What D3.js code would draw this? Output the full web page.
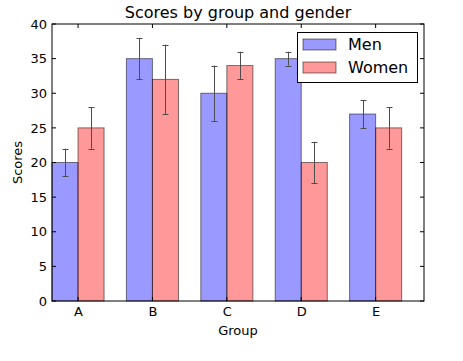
<!DOCTYPE html>
<html><head><meta charset="utf-8">
<script src="https://cdn.jsdelivr.net/npm/d3@7"></script>
<style>body{margin:0;background:#fff}svg{display:block}text{font-family:"DejaVu Sans",sans-serif;fill:#000}</style>
</head><body><svg id="c" width="463" height="361"></svg>
<script>
const groups = ["A","B","C","D","E"];
const menMeans = [20,35,30,35,27];
const menStd = [2,3,4,1,2];
const womenMeans = [25,32,34,20,25];
const womenStd = [3,5,2,3,3];
const yTicks = [0,5,10,15,20,25,30,35,40];
const barWidth = 0.35;

const svg = d3.select("#c");
const L=52,R=424,T=24,B=301;
const x = d3.scaleLinear().domain([0,5]).range([L,R]);
const y = d3.scaleLinear().domain([0,40]).range([B,T]);

const series = [
  {name:"Men", means:menMeans, std:menStd, off:0, color:"#0000ff"},
  {name:"Women", means:womenMeans, std:womenStd, off:barWidth, color:"#ff0000"}
];
series.forEach(s=>{
  const g = svg.append("g");
  g.selectAll("rect").data(s.means).join("rect")
    .attr("x",(d,i)=>x(i+s.off)).attr("width",x(barWidth)-x(0))
    .attr("y",d=>y(d)).attr("height",d=>y(0)-y(d))
    .attr("fill",s.color).attr("fill-opacity",0.4)
    .attr("stroke","#000").attr("stroke-opacity",0.5).attr("stroke-width",1);
});
series.forEach(s=>{
  const g = svg.append("g").attr("stroke","#4d4d4d").attr("stroke-width",1);
  s.means.forEach((m,i)=>{
    const cx = Math.round(x(i+s.off+barWidth/2))+0.5;
    g.append("line").attr("x1",cx).attr("x2",cx).attr("y1",y(m-s.std[i])).attr("y2",y(m+s.std[i]));
    [m-s.std[i],m+s.std[i]].forEach(v=>{
      g.append("line").attr("x1",cx-3).attr("x2",cx+3).attr("y1",Math.round(y(v))+0.5).attr("y2",Math.round(y(v))+0.5);
    });
  });
});
// frame
svg.append("rect").attr("x",L).attr("y",T).attr("width",R-L).attr("height",B-T)
  .attr("fill","none").attr("stroke","#000").attr("stroke-width",1);
// ticks inside
const tg = svg.append("g").attr("stroke","#000");
yTicks.forEach(v=>{
  tg.append("line").attr("x1",L).attr("x2",L+4).attr("y1",y(v)).attr("y2",y(v));
  tg.append("line").attr("x1",R).attr("x2",R-4).attr("y1",y(v)).attr("y2",y(v));
});
groups.forEach((g,i)=>{
  tg.append("line").attr("x1",x(i+barWidth)).attr("x2",x(i+barWidth)).attr("y1",B).attr("y2",B-4);
  tg.append("line").attr("x1",x(i+barWidth)).attr("x2",x(i+barWidth)).attr("y1",T).attr("y2",T+4);
});
// tick labels
const yAxis = d3.axisLeft(y).tickValues(yTicks).tickSize(0).tickPadding(5);
const ya = svg.append("g").attr("transform",`translate(${L},0)`).call(yAxis);
ya.select(".domain").remove();
ya.selectAll("text").style("font-size","13px").style("font-family","DejaVu Sans");
const xAxis = d3.axisBottom(x).tickValues(groups.map((g,i)=>i+barWidth)).tickFormat((d,i)=>groups[i]).tickSize(0).tickPadding(6);
const xa = svg.append("g").attr("transform",`translate(0,${B})`).call(xAxis);
xa.select(".domain").remove();
xa.selectAll("text").style("font-size","13px").style("font-family","DejaVu Sans");

svg.append("text").attr("x",(L+R)/2).attr("y",18).attr("text-anchor","middle").style("font-size","16px").text("Scores by group and gender");
svg.append("text").attr("x",(L+R)/2).attr("y",335).attr("text-anchor","middle").style("font-size","13px").text("Group");
svg.append("text").attr("transform",`translate(22,${(T+B)/2}) rotate(-90)`).attr("text-anchor","middle").style("font-size","13px").text("Scores");

// legend
const lg = svg.append("g");
lg.append("rect").attr("x",297.5).attr("y",32.5).attr("width",120).attr("height",50).attr("fill","#fff").attr("stroke","#000");
series.forEach((s,i)=>{
  const yy = 39 + i*23;
  lg.append("rect").attr("x",303).attr("y",yy).attr("width",33).attr("height",11)
    .attr("fill",s.color).attr("fill-opacity",0.4).attr("stroke","#000").attr("stroke-opacity",0.5);
  lg.append("text").attr("x",348).attr("y",yy+11).style("font-size","16px").text(s.name);
});
</script></body></html>
